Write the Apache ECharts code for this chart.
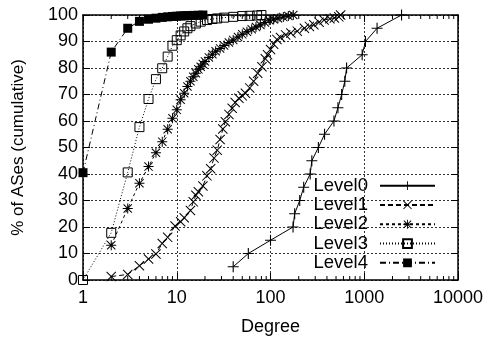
<!DOCTYPE html>
<html>
<head>
<meta charset="utf-8">
<script src="https://cdn.jsdelivr.net/npm/echarts@6/dist/echarts.min.js"></script>
<style>
  html, body {margin: 0; padding: 0; background: #fff;}
  #chart {width: 487px; height: 337px;}
</style>
</head>
<body>
<div id="chart"></div>
<script>
// [degree, % of ASes]
const level0 = [[40, 5], [58, 10], [100, 15], [174, 20], [181, 25], [205, 30], [226, 35], [265, 40],
    [276, 45], [324, 50], [377, 55], [475, 60], [524, 65], [574, 70], [620, 75], [648, 80],
    [950, 85], [1030, 90], [1370, 95], [2500, 100]];
const level1 = [[2, 1.3], [3, 2.1], [4, 5.4], [5, 7.9], [6, 9.8], [7, 13.8], [8, 16.1], [9.6, 20.4],
    [11, 22], [12, 23.5], [14, 26.2], [15, 29.5], [16, 32], [17, 33.3], [19, 35.5], [21, 39.3],
    [23, 42], [25, 46], [27, 49], [29, 53], [31, 57], [33, 59.7], [36, 62.5], [39, 64.8],
    [42, 67], [46, 68.6], [50, 69.5], [54, 70.5], [60, 72.5], [66, 75], [73, 78], [81, 80.5],
    [88, 83.5], [93, 85], [100, 87], [108, 89], [117, 90.8], [128, 91.5], [145, 92.5],
    [165, 93.2], [193, 93.9], [230, 95], [260, 95.7], [290, 96.3], [330, 97.3], [373, 98.1],
    [430, 98.6], [480, 98.9], [535, 99.3], [560, 100]];
const level2 = [[2, 13.1], [3, 27], [4, 36.5], [5, 42.8], [6, 48], [7, 52.2], [8, 56.9], [9, 61],
    [10, 64.2], [11, 68], [12, 70.5], [13, 73], [14, 75], [15, 76.7], [16, 78], [17, 79.5],
    [18, 80.5], [19, 81.5], [20, 82.5], [22, 84], [24, 85.2], [26, 86.3], [29, 87.4], [32, 88.5],
    [36, 89.6], [40, 90.6], [45, 91.7], [50, 92.7], [56, 93.7], [63, 94.6], [70, 95.5],
    [78, 96.2], [87, 97.2], [97, 98], [108, 98.4], [120, 98.8], [137, 99.2], [155, 99.6], [175, 100]];
const level3 = [[1, 0], [2, 17.8], [3, 40.6], [4, 57.7], [5, 68.3], [6, 75.8], [7, 79.9], [8, 84.3],
    [9, 88.4], [10, 90.5], [11, 92.3], [12, 93.8], [13, 95], [14, 95.8], [16, 96.8], [18, 97.5],
    [21, 98.1], [24, 98.5], [27, 98.7], [32, 99], [40, 99.3], [50, 99.6], [60, 99.7], [72, 99.8], [80, 100]];
const level4 = [[1, 40.5], [2, 86], [3, 95], [4, 97.6], [5, 98.4], [6, 98.8], [7, 99.1], [8, 99.3],
    [9, 99.45], [10, 99.55], [11, 99.65], [12, 99.7], [13, 99.75], [14, 99.8], [15, 99.85],
    [17, 99.9], [19, 100]];
const seriesNames = ['Level0', 'Level1', 'Level2', 'Level3', 'Level4'];
const minorTicks = [2, 3, 4, 5, 6, 7, 8, 9, 20, 30, 40, 50, 60, 70, 80, 90,
    200, 300, 400, 500, 600, 700, 800, 900, 2000, 3000, 4000, 5000, 6000, 7000, 8000, 9000];

const font = '"Liberation Sans", Arial, Helvetica, sans-serif';
const plus = 'path://M0,4.5H10V5.5H0Z M4.5,0H5.5V10H4.5Z';
const cross = 'path://M0,0.7L0.7,0L10,9.3L9.3,10Z M9.3,0L10,0.7L0.7,10L0,9.3Z';
const star = 'path://M0,4.5H10V5.5H0Z M4.5,0H5.5V10H4.5Z M0.5,1.2L1.2,0.5L9.5,8.8L8.8,9.5Z M8.8,0.5L9.5,1.2L1.2,9.5L0.5,8.8Z';

const chart = echarts.init(document.getElementById('chart'));

const frameX = (pos, showLabel) => ({
    type: 'log', logBase: 10, min: 1, max: 10000, position: pos,
    axisLine: {show: true, onZero: false, lineStyle: {color: '#000', width: 1.5}},
    axisTick: {show: true, inside: true, length: 7, lineStyle: {color: '#000'}},
    axisLabel: {show: showLabel, color: '#000', fontSize: 18, fontFamily: font, margin: 9,
        formatter: v => String(v)},
    splitLine: {show: showLabel, lineStyle: {color: '#333', type: [2, 2], width: 1}},
    name: showLabel ? 'Degree' : '', nameLocation: 'middle', nameGap: 38,
    nameTextStyle: {color: '#000', fontSize: 18, fontFamily: font}
});
const frameY = (pos, showLabel) => ({
    type: 'value', min: 0, max: 100, interval: 10, position: pos,
    axisLine: {show: true, onZero: false, lineStyle: {color: '#000', width: 1.5}},
    axisTick: {show: true, inside: true, length: 7, lineStyle: {color: '#000'}},
    axisLabel: {show: showLabel, color: '#000', fontSize: 18, fontFamily: font, margin: 5},
    splitLine: {show: showLabel, lineStyle: {color: '#333', type: [2, 2], width: 1}},
    name: showLabel ? '% of ASes (cumulative)' : '', nameLocation: 'middle', nameGap: 56,
    nameTextStyle: {color: '#000', fontSize: 17, fontFamily: font}
});

const mk = (name, data, symbol, size, dash, fill) => ({
    name, type: 'line', data, symbol, symbolSize: size,
    xAxisIndex: 0, yAxisIndex: 0,
    lineStyle: {color: '#000', width: 1, type: dash},
    itemStyle: fill ? {color: '#000'} : {color: 'rgba(0,0,0,0)', borderColor: '#000', borderWidth: 1},
    emphasis: {disabled: true}
});

// log minor ticks on bottom and top edges
const minorTickSeries = {
    type: 'custom', silent: true, clip: false, z: 5,
    data: minorTicks.map(v => [v, 0]),
    encode: {x: 0, y: 1},
    renderItem: (params, api) => {
        const b = api.coord([api.value(0), 0]);
        const t = api.coord([api.value(0), 100]);
        const st = {stroke: '#000', lineWidth: 1};
        return {type: 'group', children: [
            {type: 'line', shape: {x1: b[0], y1: b[1], x2: b[0], y2: b[1] - 4}, style: st},
            {type: 'line', shape: {x1: t[0], y1: t[1], x2: t[0], y2: t[1] + 4}, style: st}
        ]};
    }
};

chart.setOption({
    animation: false,
    grid: {left: 83, right: 29, top: 15, bottom: 57, outerBoundsMode: 'none', containLabel: false},
    xAxis: [frameX('bottom', true), frameX('top', false)],
    yAxis: [frameY('left', true), frameY('right', false)],
    legend: {
        orient: 'vertical', right: 46, top: 171, align: 'right',
        itemWidth: 55, itemHeight: 11, itemGap: 0,
        textStyle: {color: '#000', fontSize: 18.5, lineHeight: 19.3, fontFamily: font, padding: [0, 7, 0, 0]},
        data: seriesNames
    },
    series: [
        mk(seriesNames[0], level0, plus, 11, 'solid', true),
        mk(seriesNames[1], level1, cross, 10, [5, 3], true),
        mk(seriesNames[2], level2, star, 10, [3, 3], true),
        mk(seriesNames[3], level3, 'rect', 9, [1, 2], false),
        mk(seriesNames[4], level4, 'rect', 9, [6, 3, 1, 3], true),
        minorTickSeries
    ]
});
</script>
</body>
</html>
